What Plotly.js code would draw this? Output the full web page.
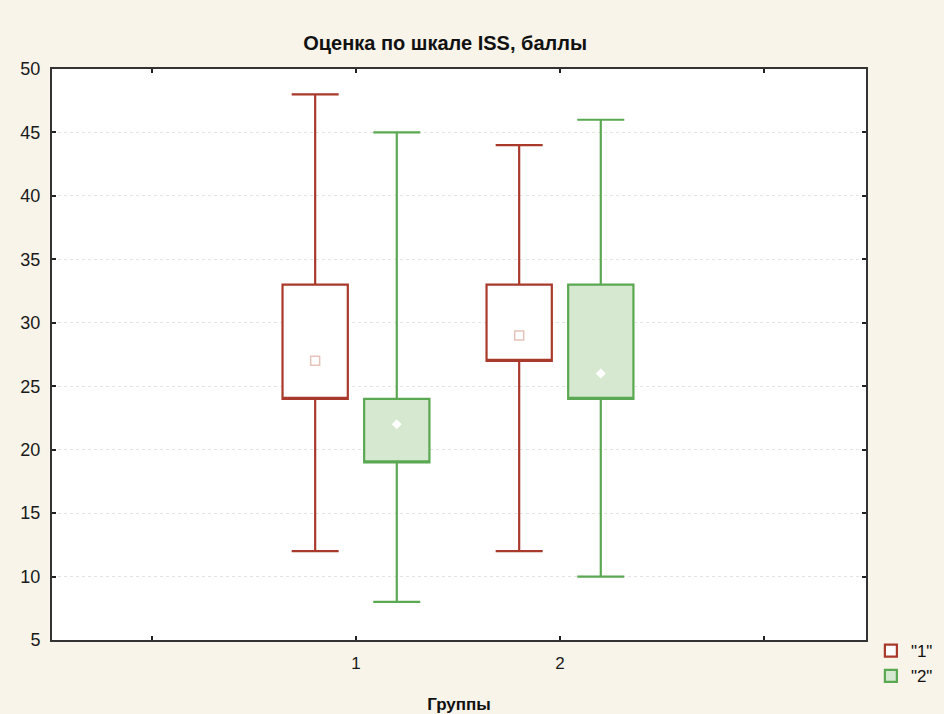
<!DOCTYPE html>
<html>
<head>
<meta charset="utf-8">
<script src="https://cdn.plot.ly/plotly-3.0.1.min.js"></script>
<style>
  html, body { margin: 0; padding: 0; background: #f8f4e9; }
  #chart { width: 944px; height: 714px; }
</style>
</head>
<body>
<div id="chart"></div>
<script>
// ISS score by group: min, quartiles, median and max for each subgroup
const groups = [1, 2];
const seriesNames = ['"1"', '"2"'];

const min1 = [12, 12];
const q1_1 = [24, 27];
const med1 = [27, 29];
const q3_1 = [33, 33];
const max1 = [48, 44];

const min2 = [8, 10];
const q1_2 = [19, 24];
const med2 = [22, 26];
const q3_2 = [24, 33];
const max2 = [45, 46];

const xTickVals = [0, 1, 2, 3];
const xTickText = ['', '1', '2', ''];

const shift = 0.2;
const boxW = 0.32;

function boxTrace(name, mins, q1, q3, maxs, offset, lineColor, fill) {
  return {
    type: 'box',
    name: name,
    x: groups.map(g => g + offset),
    lowerfence: mins,
    q1: q1,
    median: q1, // no median bar inside the box; the median is shown as a point
    q3: q3,
    upperfence: maxs,
    width: boxW,
    whiskerwidth: 0.72,
    line: { color: lineColor, width: 2.2 },
    fillcolor: fill,
    hoverinfo: 'skip'
  };
}

function medianTrace(meds, offset, symbol, color, lineColor, size) {
  return {
    type: 'scatter',
    mode: 'markers',
    x: groups.map(g => g + offset),
    y: meds,
    showlegend: false,
    hoverinfo: 'skip',
    marker: { symbol: symbol, size: size, color: color, line: { color: lineColor, width: 1.5 } }
  };
}

const data = [
  boxTrace(seriesNames[0], min1, q1_1, q3_1, max1, -shift, '#a8392b', '#ffffff'),
  boxTrace(seriesNames[1], min2, q1_2, q3_2, max2, shift, '#5aa852', '#d6e8cf'),
  medianTrace(med1, -shift, 'square-open', '#e6c3b9', '#e6c3b9', 9),
  medianTrace(med2, shift, 'diamond', '#ffffff', '#ffffff', 6)
];

const layout = {
  width: 944,
  height: 714,
  paper_bgcolor: '#f8f4e9',
  plot_bgcolor: '#ffffff',
  margin: { l: 52, r: 78, t: 69, b: 74, autoexpand: false },
  font: { family: 'Liberation Sans, Arial, sans-serif', size: 18, color: '#1a1a1a' },
  title: {
    text: '<b>Оценка по шкале ISS, баллы</b>',
    font: { size: 20, color: '#111111' },
    x: 0.4715, xanchor: 'center',
    y: 0.94, yanchor: 'middle'
  },
  boxmode: 'overlay',
  showlegend: true,
  legend: {
    x: 1.006, xanchor: 'left',
    y: 0.012, yanchor: 'top',
    bgcolor: 'rgba(0,0,0,0)',
    font: { size: 17, color: '#111111' },
    itemwidth: 30,
    tracegroupgap: 0
  },
  xaxis: {
    range: [-0.49, 3.5],
    tickvals: xTickVals,
    ticktext: xTickText,
    tickfont: { size: 17 },
    ticks: 'inside',
    ticklen: 4,
    tickwidth: 2,
    tickcolor: '#222222',
    showgrid: false,
    zeroline: false,
    showline: true,
    linecolor: '#333333',
    linewidth: 2,
    mirror: 'ticks',
    ticklabelstandoff: 7,
    title: { text: '<b>Группы</b>', font: { size: 17, color: '#111111' }, standoff: 26 }
  },
  yaxis: {
    range: [5, 50],
    dtick: 5,
    tick0: 5,
    tickfont: { size: 18 },
    ticks: 'inside',
    ticklen: 4,
    tickwidth: 2,
    tickcolor: '#222222',
    showgrid: true,
    gridcolor: '#e4e4e4',
    griddash: 'dot',
    gridwidth: 1,
    zeroline: false,
    showline: true,
    linecolor: '#333333',
    linewidth: 2,
    mirror: 'ticks',
    ticklabelstandoff: 6
  }
};

Plotly.newPlot('chart', data, layout, { displayModeBar: false, staticPlot: true });
</script>
</body>
</html>
